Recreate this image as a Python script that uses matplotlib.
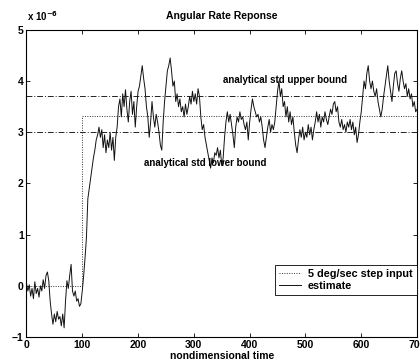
import matplotlib
matplotlib.use("Agg")
import matplotlib.pyplot as plt
import numpy as np

plt.rcParams['font.family'] = ['Liberation Sans', 'DejaVu Sans']
plt.rcParams['font.weight'] = 'bold'

# estimate, sampled every 2.5 time units, in units of 1e-6
dt = 2.5
estimate = [
    # 0 - 100
    0.05, -0.1, 0.02, -0.2, -0.05, -0.25, 0.08, -0.15, -0.05, -0.22,
    0.0, -0.1, 0.12, -0.05, 0.2, 0.27, 0.1, -0.3, -0.55, -0.75,
    -0.55, -0.7, -0.5, -0.65, -0.6, -0.78, -0.55, -0.82, -0.3, 0.1,
    -0.05, 0.2, 0.42, -0.1, -0.2, -0.1, -0.3, -0.25, -0.4, -0.35,
    -0.1,
    # 102.5 - 200
    0.2, 0.55, 0.95, 1.7, 1.9, 2.1, 2.3, 2.5, 2.65, 2.85,
    2.95, 3.1, 2.9, 3.05, 2.7, 2.95, 2.6, 2.85, 2.7, 3.0,
    2.65, 2.9, 2.45, 2.9, 3.1, 3.5, 3.65, 3.3, 3.75, 3.5,
    3.83, 3.45, 3.2, 3.6, 3.8, 3.35, 3.6, 3.1, 3.5, 3.8,
    # 202.5 - 300
    3.9, 4.1, 4.3, 4.05, 3.85, 3.5, 3.3, 2.9, 3.2, 3.6,
    3.3, 3.1, 3.35, 3.2, 3.0, 2.75, 2.65, 3.2, 3.6, 3.9,
    4.2, 4.3, 4.45, 4.2, 3.9, 4.0, 3.6, 3.75, 3.5, 3.65,
    3.4, 3.5, 3.3, 3.55, 3.35, 3.5, 3.7, 3.55, 3.8, 3.6,
    # 302.5 - 400
    3.75, 3.55, 3.85, 3.7, 3.3, 3.05, 3.15, 2.9, 2.75, 2.6,
    2.45, 2.3, 2.5, 2.4, 2.6, 2.55, 2.7, 2.5, 2.65, 2.35,
    2.5, 2.9, 3.2, 3.4, 3.2, 3.35, 3.15, 2.95, 2.7, 3.1,
    3.3, 3.2, 3.4, 3.25, 3.3, 3.15, 3.05, 3.2, 2.85, 3.2,
    # 402.5 - 500
    3.45, 3.65, 3.5, 3.4, 3.3, 3.35, 3.2, 3.3, 3.1, 2.85,
    2.7, 2.9, 3.1, 3.25, 3.0, 3.15, 3.05, 3.2, 3.5, 3.8,
    4.0, 3.7, 3.85, 3.5, 3.6, 3.3, 3.5, 3.2, 3.4, 3.15,
    3.3, 3.0, 2.75, 2.6, 2.85, 3.05, 2.9, 3.1, 2.85, 3.0,
    # 502.5 - 600
    2.9, 3.15, 2.95, 3.1, 2.85, 3.05, 3.2, 3.4, 3.2, 3.35,
    3.1, 3.3, 3.2, 3.4, 3.25, 3.15, 3.3, 3.45, 3.35, 3.55,
    3.6, 3.4, 3.5, 3.2, 3.1, 3.25, 3.05, 3.15, 3.0, 3.2,
    3.1, 3.25, 3.05, 3.2, 2.95, 3.1, 2.8, 2.95, 3.2, 3.4,
    # 602.5 - 700
    3.7, 4.0, 3.85, 4.15, 4.3, 4.0, 3.85, 4.0, 3.8, 3.7,
    3.85, 3.6, 3.45, 3.3, 3.45, 3.7, 3.9, 4.1, 4.3, 4.0,
    3.8, 3.6, 3.9, 4.15, 4.2, 3.95, 3.8, 4.05, 4.2, 4.0,
    3.85, 3.95, 3.7, 3.85, 3.65, 3.75, 3.5, 3.6, 3.4, 3.45,
]
t = np.arange(len(estimate)) * dt

step_t = [0, 100, 700]
step_val = [0, 3.31, 3.31]
upper_bound = 3.71
lower_bound = 3.0

fig = plt.figure(figsize=(4.2, 3.64), dpi=100)
ax = fig.add_axes([0.063, 0.074, 0.93, 0.844])

ax.plot(step_t, step_val, drawstyle='steps-post', color='#333333',
        lw=0.7, ls=(0, (1, 1.5)), label='5 deg/sec step input')
ax.plot(t, estimate, color='#111111', lw=0.7, label='estimate')
ax.axhline(upper_bound, color='#222222', lw=0.7, ls=(0, (6, 2, 1, 2)))
ax.axhline(lower_bound, color='#222222', lw=0.7, ls=(0, (6, 2, 1, 2)))

ax.text(463, 4.02, 'analytical std upper bound', ha='center', va='center', fontsize=7)
ax.text(321, 2.40, 'analytical std lower bound', ha='center', va='center', fontsize=7)

ax.set_xlim(0, 700)
ax.set_ylim(-1, 5)
ax.set_xticks(range(0, 701, 100))
ax.set_yticks(range(-1, 6))
ax.tick_params(direction='in', top=True, right=True, length=3, width=0.6,
               labelsize=7.5, pad=2)
for s in ax.spines.values():
    s.set_linewidth(0.8)

ax.set_title('Angular Rate Reponse', fontsize=7.5, fontweight='bold', pad=8)
ax.set_xlabel('nondimensional time', fontsize=7.5, fontweight='bold', labelpad=1)
fig.text(0.065, 0.955, r'x 10$^{-6}$', fontsize=7, ha='left', va='center')

leg = ax.legend(loc='lower right', bbox_to_anchor=(1.0, 0.137), fontsize=7.8,
                fancybox=False, edgecolor='black', framealpha=1,
                borderaxespad=0, handlelength=2.0, handletextpad=0.7,
                borderpad=0.4, labelspacing=0.15)
leg.get_frame().set_linewidth(0.6)

fig.savefig('out.png', dpi=100)
